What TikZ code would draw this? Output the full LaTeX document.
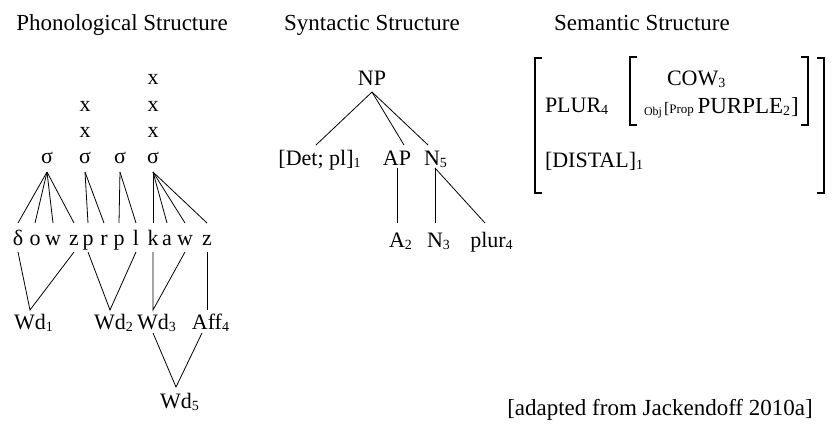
\documentclass[tikz,border=0pt]{standalone}
\usepackage{fontspec}
\setmainfont{Liberation Serif}
\newcommand{\sub}[1]{\raisebox{-2.5pt}{\fontsize{14}{16}\selectfont #1}}
\newcommand{\rsub}[1]{\rlap{\sub{#1}}}
\begin{document}
\begin{tikzpicture}[x=1pt,y=-1pt,
  every node/.style={inner sep=0pt,outer sep=0pt,font=\fontsize{22}{26}\selectfont},
  ttl/.style={anchor=base,font=\fontsize{23}{27}\selectfont},
  xmark/.style={anchor=base},
  sig/.style={anchor=base,text depth=9pt},
  phon/.style={anchor=base,text height=22pt,text depth=7pt},
  wdn/.style={anchor=base,text height=19pt,text depth=4pt},
  wdtop/.style={anchor=base,text height=21pt},
  npn/.style={anchor=base,text depth=7pt},
  rowtwo/.style={anchor=base,text height=20pt,text depth=3pt},
  rowthree/.style={anchor=base,text height=24pt},
  sem/.style={anchor=base west},
  smallt/.style={font=\fontsize{12}{14}\selectfont},
  edge/.style={line width=0.8pt},
  brk/.style={line width=1.1pt}]
\useasboundingbox (0,0) rectangle (832,423);

% titles
\node[ttl] (t1) at (122,30) {Phonological Structure};
\node[ttl] (t2) at (372,30) {Syntactic Structure};
\node[ttl] (t3) at (642,30) {Semantic Structure};

% phonological: metrical grid
\node[xmark] (x1) at (153,84) {x};
\node[xmark] (x2) at (85,111) {x};
\node[xmark] (x3) at (153,111) {x};
\node[xmark] (x4) at (85,137) {x};
\node[xmark] (x5) at (153,137) {x};
\node[sig] (s1) at (47,163) {σ};
\node[sig] (s2) at (85,163) {σ};
\node[sig] (s3) at (120,163) {σ};
\node[sig] (s4) at (153,163) {σ};

% segments
\node[phon] (p1) at (18,245) {δ};
\node[phon] (p2) at (35,245) {o};
\node[phon] (p3) at (53,245) {w};
\node[phon] (p4) at (74,245) {z};
\node[phon] (p5) at (88,245) {p};
\node[phon] (p6) at (104,245) {r};
\node[phon] (p7) at (119,245) {p};
\node[phon] (p8) at (136,245) {l};
\node[phon] (p9) at (153,245) {k};
\node[phon] (p10) at (167,245) {a};
\node[phon] (p11) at (185,245) {w};
\node[phon] (p12) at (207,245) {z};

% words
\node[wdn] (w1) at (30,329) {Wd\rsub{1}};
\node[wdn] (w2) at (110,329) {Wd\rsub{2}};
\node[wdn] (w3) at (153,329) {Wd\rsub{3}};
\node[wdn] (a4) at (207,329) {Aff\rsub{4}};
\node[wdtop] (w5) at (176,408) {Wd\rsub{5}};

\foreach \p in {p1,p2,p3,p4} \draw[edge] (s1.south) -- (\p.north);
\foreach \p in {p5,p6} \draw[edge] (s2.south) -- (\p.north);
\foreach \p in {p7,p8} \draw[edge] (s3.south) -- (\p.north);
\foreach \p in {p9,p10,p11,p12} \draw[edge] (s4.south) -- (\p.north);
\draw[edge] (p1.south) -- (w1.north) -- (p4.south);
\draw[edge] (p5.south) -- (w2.north) -- (p8.south);
\draw[edge] (p9.south) -- (w3.north) -- (p11.south);
\draw[edge] (p12.south) -- (a4.north);
\draw[edge] (w3.south) -- (w5.north) -- ([xshift=-5pt]a4.south);

% syntactic
\node[npn] (np) at (372,85) {NP};
\node[rowtwo] (det) at (316,165) {[Det; pl]\rsub{1}};
\node[rowtwo] (ap) at (397,165) {AP};
\node[rowtwo] (n5) at (432,165) {N\rsub{5}};
\node[rowthree] (a2) at (397,247) {A\rsub{2}};
\node[rowthree] (n3) at (435,247) {N\rsub{3}};
\node[rowthree] (pl4) at (488,247) {plur\rsub{4}};
\draw[edge] (np.south) -- (det.north);
\draw[edge] (np.south) -- ([xshift=7pt]ap.north);
\draw[edge] (np.south) -- ([xshift=-4pt]n5.north);
\draw[edge] (ap.south) -- (a2.north);
\draw[edge] ([xshift=3pt]n5.south) -- (n3.north);
\draw[edge] ([xshift=3pt]n5.south) -- ([xshift=-3pt]pl4.north);

% semantic
\node[sem] (cow) at (667,85) {COW\sub{3}};
\node[sem] (plur) at (545,112) {PLUR\sub{4}};
\node[sem,smallt] (obj) at (644,115) {Obj};
\node[sem] (purple) at (664,113) {{\fontsize{16}{18}\selectfont[}{\fontsize{13}{15}\selectfont Prop}\,\fontsize{23}{26}\selectfont PURPLE\sub{2}\kern1pt]};
\node[sem] (distal) at (545,167) {[DISTAL]\sub{1}};

\draw[brk] (542,58) -- (535,58) -- (535,193) -- (542,193);
\draw[brk] (817,58) -- (824,58) -- (824,193) -- (817,193);
\draw[brk] (637,57) -- (630,57) -- (630,125) -- (637,125);
\draw[brk] (801,57) -- (808,57) -- (808,125) -- (801,125);

\node[ttl] (src) at (660,415) {[adapted from Jackendoff 2010a]};
\end{tikzpicture}
\end{document}
